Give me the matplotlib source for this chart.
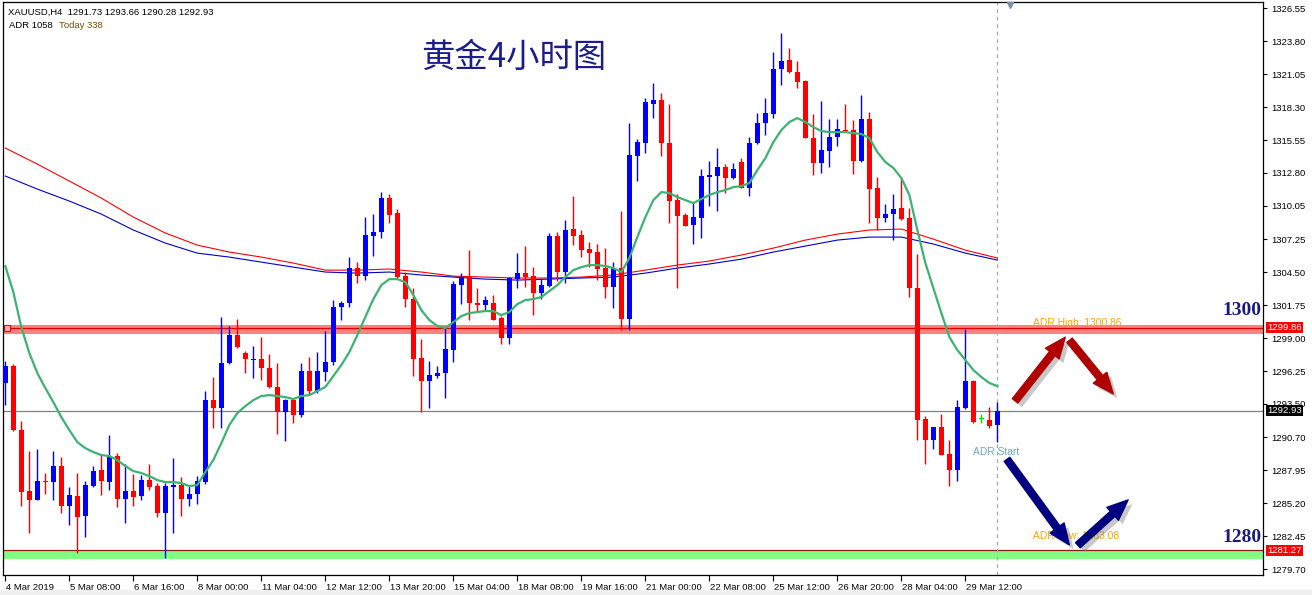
import numpy as np
import matplotlib
matplotlib.use("Agg")
import matplotlib.pyplot as plt
import matplotlib.transforms as mtransforms
import matplotlib.patheffects as pe
from matplotlib.patches import FancyArrowPatch, Rectangle

plt.rcParams['font.family'] = ['Liberation Sans', 'DejaVu Sans']

# XAUUSD H4, 4 Mar 2019 00:00 ... 29 Mar, one value per bar
opens = [
    1295.25, 1296.66, 1291.32, 1286.22, 1285.47, 1287.06, 1286.97, 1288.31, 1284.97, 1285.80,
    1284.13, 1286.64, 1287.98, 1286.97, 1289.15, 1285.55, 1286.22, 1285.80, 1287.14, 1286.64,
    1284.38, 1286.56, 1286.72, 1285.55, 1285.97, 1286.97, 1293.82, 1293.16, 1296.91, 1299.25,
    1297.75, 1297.21, 1297.25, 1296.50, 1294.91, 1292.82, 1293.82, 1292.57, 1296.25, 1294.58,
    1296.16, 1297.00, 1301.59, 1301.93, 1304.85, 1304.18, 1307.52, 1307.86, 1310.70, 1309.45,
    1304.18, 1302.26, 1297.33, 1295.41, 1295.83, 1296.08, 1298.00, 1303.43, 1304.10, 1301.93,
    1301.76, 1301.93, 1300.67, 1299.00, 1303.93, 1304.43, 1304.18, 1302.76, 1303.35, 1307.52,
    1304.52, 1308.11, 1307.61, 1306.44, 1306.19, 1304.85, 1303.26, 1304.85, 1300.59, 1314.21,
    1315.29, 1318.55, 1318.89, 1315.29, 1310.53, 1309.28, 1308.44, 1309.03, 1312.45, 1312.54,
    1313.29, 1312.37, 1313.71, 1311.53, 1315.29, 1316.96, 1317.72, 1321.48, 1322.23, 1321.23,
    1320.47, 1315.71, 1313.62, 1314.63, 1315.80, 1316.40, 1316.38, 1313.79, 1317.30, 1311.53,
    1309.03, 1309.36, 1309.86, 1309.03, 1303.18, 1292.24, 1290.48, 1291.57, 1289.31, 1287.98,
    1293.16, 1295.41, 1292.24, 1292.15, 1291.73]
highs = [
    1297.08, 1296.83, 1292.07, 1289.56, 1289.73, 1287.73, 1289.56, 1289.06, 1286.56, 1287.73,
    1287.06, 1288.31, 1289.23, 1290.90, 1289.40, 1288.48, 1287.64, 1287.56, 1288.48, 1286.89,
    1286.89, 1288.98, 1287.39, 1286.64, 1287.47, 1294.58, 1295.75, 1300.76, 1300.01, 1300.59,
    1297.92, 1298.33, 1299.09, 1297.67, 1296.91, 1293.90, 1293.99, 1296.91, 1297.42, 1297.83,
    1299.59, 1302.18, 1302.09, 1305.77, 1305.35, 1309.11, 1309.36, 1311.20, 1311.03, 1309.78,
    1304.52, 1303.18, 1298.92, 1297.08, 1296.66, 1299.92, 1303.77, 1304.43, 1306.35, 1303.18,
    1302.51, 1302.60, 1300.84, 1304.10, 1306.10, 1306.69, 1304.93, 1303.93, 1307.78, 1307.86,
    1308.86, 1310.87, 1308.03, 1307.02, 1306.86, 1306.52, 1305.35, 1309.62, 1316.96, 1315.63,
    1319.05, 1320.31, 1319.47, 1318.55, 1311.03, 1309.45, 1310.28, 1313.12, 1313.79, 1314.88,
    1313.54, 1313.62, 1314.04, 1315.80, 1317.80, 1319.05, 1322.90, 1324.48, 1323.23, 1322.14,
    1320.56, 1317.72, 1318.80, 1317.30, 1317.30, 1318.55, 1317.22, 1319.30, 1317.88, 1312.45,
    1310.20, 1311.03, 1312.29, 1309.86, 1306.02, 1292.49, 1291.60, 1292.65, 1290.48, 1293.82,
    1299.76, 1295.49, 1292.65, 1293.24, 1293.66]
lows = [
    1293.41, 1291.23, 1284.97, 1282.71, 1285.47, 1285.97, 1285.47, 1284.38, 1283.38, 1281.04,
    1282.38, 1286.56, 1285.89, 1286.30, 1284.88, 1283.55, 1284.97, 1285.47, 1286.30, 1284.05,
    1280.62, 1282.71, 1284.13, 1284.97, 1285.14, 1286.81, 1291.48, 1291.48, 1296.83, 1298.20,
    1296.08, 1295.66, 1295.49, 1294.85, 1290.98, 1290.40, 1291.90, 1292.40, 1294.24, 1294.41,
    1295.41, 1296.75, 1300.51, 1301.59, 1303.60, 1303.85, 1305.85, 1307.36, 1308.61, 1304.05,
    1301.59, 1295.83, 1292.82, 1293.16, 1295.66, 1293.99, 1297.00, 1301.84, 1300.51, 1301.18,
    1301.34, 1300.51, 1298.50, 1298.50, 1303.18, 1303.26, 1300.92, 1302.26, 1303.30, 1303.77,
    1303.60, 1306.77, 1305.77, 1304.93, 1303.85, 1302.34, 1301.51, 1299.67, 1299.67, 1312.12,
    1314.46, 1317.38, 1314.21, 1308.61, 1303.18, 1308.40, 1306.86, 1307.36, 1310.03, 1309.62,
    1311.12, 1312.29, 1311.50, 1310.87, 1315.25, 1315.96, 1317.38, 1320.14, 1321.14, 1319.89,
    1315.71, 1312.62, 1312.79, 1313.29, 1315.04, 1316.25, 1312.70, 1313.71, 1308.61, 1308.03,
    1308.69, 1307.19, 1308.90, 1302.43, 1290.48, 1288.48, 1289.73, 1289.20, 1286.64, 1287.06,
    1293.10, 1291.90, 1291.90, 1291.48, 1290.28]
closes = [
    1296.66, 1291.30, 1286.14, 1285.47, 1287.06, 1286.97, 1288.31, 1284.97, 1285.89, 1284.05,
    1286.72, 1287.89, 1287.06, 1289.15, 1285.55, 1286.22, 1285.72, 1287.14, 1286.56, 1284.38,
    1286.64, 1286.72, 1285.55, 1285.97, 1287.06, 1293.82, 1293.16, 1296.91, 1299.25, 1298.25,
    1297.25, 1297.27, 1296.50, 1294.91, 1292.82, 1293.82, 1292.57, 1296.25, 1294.58, 1296.25,
    1297.00, 1301.59, 1301.93, 1304.85, 1304.18, 1307.61, 1307.86, 1310.70, 1309.28, 1304.10,
    1302.26, 1297.25, 1295.41, 1295.91, 1296.08, 1298.08, 1303.51, 1304.10, 1301.93, 1301.76,
    1302.18, 1300.55, 1299.00, 1304.02, 1304.43, 1304.10, 1302.76, 1303.43, 1307.52, 1304.52,
    1308.03, 1307.52, 1306.35, 1306.10, 1304.77, 1303.26, 1304.85, 1300.59, 1314.29, 1315.38,
    1318.72, 1318.89, 1315.29, 1310.45, 1309.20, 1308.40, 1309.11, 1312.54, 1312.62, 1313.29,
    1312.37, 1313.12, 1311.50, 1315.29, 1316.96, 1317.80, 1321.48, 1322.14, 1321.23, 1320.39,
    1315.75, 1313.62, 1314.71, 1315.80, 1316.46, 1316.30, 1313.79, 1317.30, 1311.45, 1309.03,
    1309.36, 1309.78, 1308.94, 1303.18, 1292.15, 1290.48, 1291.57, 1289.20, 1287.98, 1293.24,
    1295.41, 1291.99, 1292.24, 1291.65, 1292.93]

# short moving average (green), read per bar
ma_fast = [
    1305.02, 1302.85, 1299.92, 1297.75, 1296.08, 1294.83, 1293.66, 1292.40, 1291.32, 1290.31,
    1289.81, 1289.48, 1289.23, 1289.15, 1288.81, 1288.31, 1287.89, 1287.73, 1287.47, 1287.14,
    1286.97, 1286.97, 1286.89, 1286.64, 1286.72, 1287.81, 1288.81, 1290.23, 1291.74, 1292.74,
    1293.32, 1293.82, 1294.16, 1294.24, 1294.16, 1294.07, 1293.91, 1294.16, 1294.24, 1294.58,
    1294.91, 1295.83, 1296.75, 1297.83, 1299.25, 1300.76, 1302.26, 1303.43, 1303.93, 1303.93,
    1303.68, 1302.60, 1301.34, 1300.51, 1300.01, 1299.84, 1300.34, 1300.84, 1301.09, 1301.18,
    1301.26, 1301.26, 1300.92, 1301.18, 1301.84, 1302.18, 1302.26, 1302.43, 1302.93, 1303.43,
    1304.10, 1304.68, 1304.93, 1305.10, 1305.10, 1305.02, 1304.85, 1304.52, 1305.69, 1307.44,
    1309.11, 1310.53, 1311.20, 1311.12, 1310.78, 1310.53, 1310.28, 1310.62, 1310.95, 1311.20,
    1311.37, 1311.62, 1311.70, 1311.95, 1313.04, 1314.04, 1315.38, 1316.38, 1317.05, 1317.38,
    1317.05, 1316.63, 1316.30, 1316.21, 1316.21, 1316.21, 1316.13, 1316.05, 1315.71, 1314.54,
    1313.71, 1313.21, 1312.37, 1310.95, 1308.03, 1305.27, 1303.18, 1301.09, 1299.09, 1298.00,
    1297.17, 1296.33, 1295.75, 1295.25, 1294.99]

# long moving averages, read every 4 bars
ma_bars = list(range(0, 125, 4))
ma_red = [1314.88, 1313.54, 1312.12, 1310.70, 1309.11, 1307.78, 1306.77, 1306.19, 1305.77, 1305.27,
          1304.68, 1304.68, 1304.77, 1304.52, 1304.18, 1304.10, 1304.02, 1304.02, 1304.10, 1304.27,
          1304.68, 1305.10, 1305.44, 1305.94, 1306.52, 1307.19, 1307.69, 1308.03, 1308.11, 1307.27,
          1306.35, 1305.69]
ma_blue = [1312.54, 1311.45, 1310.45, 1309.36, 1308.03, 1306.94, 1306.10, 1305.77, 1305.35, 1304.93,
           1304.52, 1304.43, 1304.52, 1304.27, 1304.10, 1303.93, 1303.85, 1303.93, 1304.02, 1304.10,
           1304.43, 1304.85, 1305.19, 1305.60, 1306.19, 1306.69, 1307.19, 1307.44, 1307.44, 1306.86,
           1306.10, 1305.52]

date_bars = list(range(0, 121, 8))
date_labels = ['4 Mar 2019', '5 Mar 08:00', '6 Mar 16:00', '8 Mar 00:00', '11 Mar 04:00',
               '12 Mar 12:00', '13 Mar 20:00', '15 Mar 04:00', '18 Mar 08:00', '19 Mar 16:00',
               '21 Mar 00:00', '22 Mar 08:00', '25 Mar 12:00', '26 Mar 20:00', '28 Mar 04:00',
               '29 Mar 12:00']
price_ticks = [1326.55, 1323.80, 1321.05, 1318.30, 1315.55, 1312.80, 1310.05, 1307.25, 1304.50,
               1301.75, 1299.00, 1296.25, 1293.50, 1290.70, 1287.95, 1285.20, 1282.45, 1279.70]

adr_high = 1300.86
adr_low = 1283.08
res_level = 1299.86
sup_level = 1281.27
last_price = 1292.93
last_bar = 124

# arrows (bar, price) -> (bar, price)
red_arrows = [((126.0, 1293.58), (132.7, 1299.26)), ((132.8, 1299.00), (138.7, 1294.16))]
navy_arrows = [((125.0, 1289.06), (133.2, 1281.54)), ((133.8, 1281.54), (140.6, 1285.64))]

W, H = 1312, 595
fig = plt.figure(figsize=(W / 100, H / 100), dpi=100)
fig.patches.append(Rectangle((0, 0), 1, 5 / H, transform=fig.transFigure,
                             color='#f0f0f0', zorder=0))
ax = fig.add_axes([3 / W, 20 / H, 1260 / W, 573 / H])
ax.set_xlim(-0.29, 157.2)
ax.set_ylim(1279.21, 1327.08)

x = np.arange(len(opens))
o = np.array(opens)
h = np.array(highs)
l = np.array(lows)
c = np.array(closes)

# bands
ax.axhspan(1299.35, 1300.12, color='#ff8080', lw=0, zorder=1)
ax.axhline(res_level, color='#dd0000', lw=0.9, zorder=1.1)
ax.axhspan(1280.55, 1281.22, color='#80ff80', lw=0, zorder=1)
ax.axhline(sup_level, color='#8b1a1a', lw=0.9, zorder=1.1)
ax.plot(0.2, res_level, marker='s', ms=4, mfc='#ffb0b0', mec='#ff0000', mew=0.8, zorder=5)

ax.axhline(last_price, color='#808080', lw=0.9, zorder=1.5)
ax.axvline(last_bar, color='#a8a8a8', lw=0.9, ls=(0, (3, 3)), zorder=1.5)

# moving averages
ax.plot(ma_bars, ma_red, color='#ff0000', lw=0.8, zorder=2)
ax.plot(ma_bars, ma_blue, color='#0000cc', lw=0.8, zorder=2)

# candles
colors = np.where(c > o, '#0000ff', np.where(c < o, '#ff0000', '#00dd00'))
ax.vlines(x, l, h, colors=colors, lw=1.0, zorder=3)
body = np.maximum(np.abs(c - o), 0.08)
ax.bar(x, body, bottom=np.minimum(o, c), width=0.62, color=colors, lw=0, zorder=3)

ax.plot(x, ma_fast, color='#3cb371', lw=1.6, zorder=4)

# text on chart
fs = 6.8
ax.text(128.5, 1300.26, 'ADR High: %.2f' % adr_high, color='#ffa500', fontsize=7.4,
        va='center', ha='left', zorder=6)
ax.text(128.5, 1282.46, 'ADR Low: %.2f' % adr_low, color='#ffa500', fontsize=7.4,
        va='center', ha='left', zorder=6)
ax.text(120.96, 1289.48, 'ADR Start', color='#6aa6c8', fontsize=7.4,
        va='center', ha='left', zorder=6)
ax.text(157.0, 1301.34, '1300', color='#1a1a80', fontsize=14, fontweight='bold',
        family='Liberation Serif', ha='right', va='center', zorder=6)
ax.text(157.0, 1282.38, '1280', color='#1a1a80', fontsize=14, fontweight='bold',
        family='Liberation Serif', ha='right', va='center', zorder=6)

shadow = [pe.SimplePatchShadow(offset=(3, -3), shadow_rgbFace='#777777', alpha=0.4), pe.Normal()]
for arrows, col in ((red_arrows, '#b00000'), (navy_arrows, '#000080')):
    for (x0, y0), (x1, y1) in arrows:
        ar = FancyArrowPatch((x0, y0), (x1, y1), mutation_scale=10, color=col, zorder=7,
                             arrowstyle='simple,head_length=1.5,head_width=1.25,tail_width=0.5')
        ar.set_path_effects(shadow)
        ax.add_patch(ar)

ax.plot(125.6, 1326.82, marker='v', ms=5, color='#7b8fa8', zorder=7, clip_on=False)

# axes
for s in ax.spines.values():
    s.set_color('black')
    s.set_linewidth(0.9)
ax.yaxis.tick_right()
ax.set_yticks(price_ticks)
ax.set_yticklabels(['%.2f' % p for p in price_ticks])
ax.tick_params(axis='y', direction='out', length=3, pad=3, labelsize=fs)
ax.set_xticks(date_bars)
ax.set_xticklabels(date_labels)
ax.tick_params(axis='x', direction='out', length=4, pad=2, labelsize=fs)
off = mtransforms.ScaledTranslation(1 / 100, 0, fig.dpi_scale_trans)
for lbl in ax.get_xticklabels():
    lbl.set_horizontalalignment('left')
    lbl.set_transform(lbl.get_transform() + off)

tag = mtransforms.blended_transform_factory(ax.transAxes, ax.transData)
for val, bg in ((res_level, '#ff0000'), (last_price, '#000000'), (sup_level, '#ff0000')):
    ax.text(1.0035, val, '%.2f' % val, transform=tag, color='white', fontsize=fs,
            ha='left', va='center', clip_on=False, zorder=8,
            bbox=dict(boxstyle='square,pad=0.12', fc=bg, ec='none'))

# header and title
fig.text(8 / W, 1 - 12.7 / H, 'XAUUSD,H4  1291.73 1293.66 1290.28 1292.93',
         fontsize=fs, va='center', ha='left')
fig.text(9 / W, 1 - 25.7 / H, 'ADR 1058', fontsize=fs, va='center', ha='left')
fig.text(59 / W, 1 - 25.7 / H, 'Today 338', fontsize=fs, va='center', ha='left', color='#7a4a00')
fig.text(513.5 / W, 1 - 57.5 / H, '黄金4小时图', fontsize=24, color='#1c1c8c', ha='center',
         va='center', family=['Noto Sans CJK SC', 'DejaVu Sans'])

fig.savefig('out.png', dpi=100)
